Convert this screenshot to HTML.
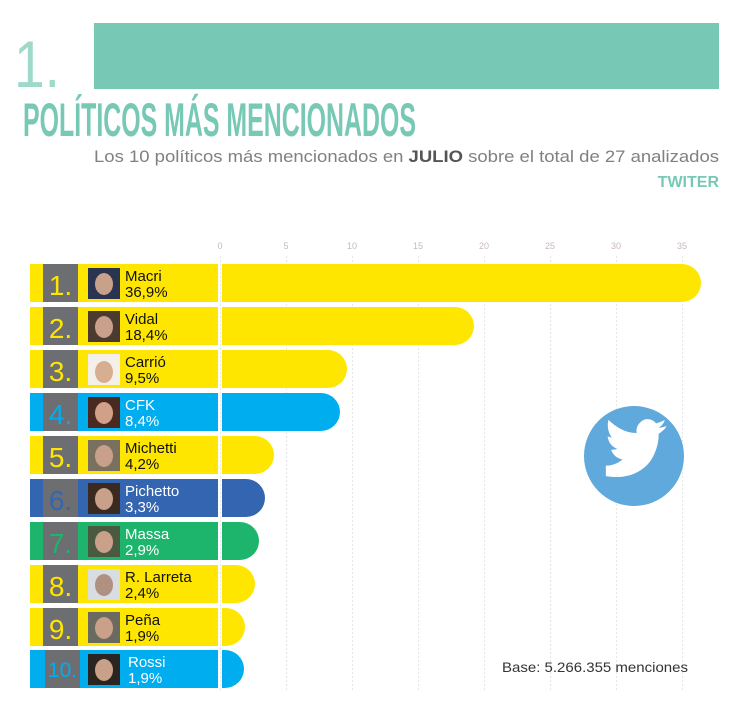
<!DOCTYPE html>
<html><head><meta charset="utf-8"><style>
html,body{margin:0;padding:0;background:#fff;}
svg{display:block;}
</style></head><body>
<svg width="754" height="706" viewBox="0 0 754 706" xmlns="http://www.w3.org/2000/svg" font-family="Liberation Sans, sans-serif">
<rect x="94" y="23" width="625" height="66" fill="#77c9b5"/>
<text x="14" y="87" font-size="66" fill="#9fd9ca" textLength="46" lengthAdjust="spacingAndGlyphs">1.</text>
<text x="23" y="136" font-size="47" font-weight="bold" fill="#77c9b5" font-family="Liberation Sans Narrow, Liberation Sans, sans-serif" textLength="393" lengthAdjust="spacingAndGlyphs">POLÍTICOS MÁS MENCIONADOS</text>
<text x="94" y="162" font-size="17" fill="#808080" font-family="Liberation Sans Narrow, Liberation Sans, sans-serif" textLength="625" lengthAdjust="spacingAndGlyphs">Los 10 políticos más mencionados en <tspan font-weight="bold" fill="#555">JULIO</tspan> sobre el total de 27 analizados</text>
<text x="719" y="187" font-size="16" font-weight="bold" fill="#77c9b5" text-anchor="end" font-family="Liberation Sans Narrow, Liberation Sans, sans-serif">TWITER</text>
<g font-size="9" fill="#c8b8b8" text-anchor="middle">
<text x="220" y="249">0</text><text x="286" y="249">5</text><text x="352" y="249">10</text><text x="418" y="249">15</text><text x="484" y="249">20</text><text x="550" y="249">25</text><text x="616" y="249">30</text><text x="682" y="249">35</text>
</g>
<g stroke="#e6e6e6" stroke-width="1" stroke-dasharray="2,2">
<line x1="286.5" y1="256" x2="286.5" y2="690"/><line x1="352.5" y1="256" x2="352.5" y2="690"/><line x1="418.5" y1="256" x2="418.5" y2="690"/><line x1="484.5" y1="256" x2="484.5" y2="690"/><line x1="550.5" y1="256" x2="550.5" y2="690"/><line x1="616.5" y1="256" x2="616.5" y2="690"/><line x1="682.5" y1="256" x2="682.5" y2="690"/><line x1="220.5" y1="256" x2="220.5" y2="690"/>
</g>

<g>
<rect x="30" y="264" width="188" height="38" fill="#ffe600"/>
<path d="M222 264 H682 A19 19 0 0 1 682 302 H222 Z" fill="#ffe600"/>
<rect x="43" y="264" width="35" height="38" fill="#6d6e71"/>
<text x="60.5" y="295" font-size="28" fill="#ffe600" text-anchor="middle">1.</text>
<rect x="88" y="268" width="32" height="31" fill="#2a3350"/><ellipse cx="104" cy="284" rx="9" ry="11" fill="#c9a089"/>
<text x="125" y="281" font-size="15" fill="#111">Macri</text>
<text x="125" y="297" font-size="15" fill="#111">36,9%</text>
</g>
<g>
<rect x="30" y="307" width="188" height="38" fill="#ffe600"/>
<path d="M222 307 H455 A19 19 0 0 1 455 345 H222 Z" fill="#ffe600"/>
<rect x="43" y="307" width="35" height="38" fill="#6d6e71"/>
<text x="60.5" y="338" font-size="28" fill="#ffe600" text-anchor="middle">2.</text>
<rect x="88" y="311" width="32" height="31" fill="#4a3a30"/><ellipse cx="104" cy="327" rx="9" ry="11" fill="#c9a089"/>
<text x="125" y="324" font-size="15" fill="#111">Vidal</text>
<text x="125" y="340" font-size="15" fill="#111">18,4%</text>
</g>
<g>
<rect x="30" y="350" width="188" height="38" fill="#ffe600"/>
<path d="M222 350 H328 A19 19 0 0 1 328 388 H222 Z" fill="#ffe600"/>
<rect x="43" y="350" width="35" height="38" fill="#6d6e71"/>
<text x="60.5" y="381" font-size="28" fill="#ffe600" text-anchor="middle">3.</text>
<rect x="88" y="354" width="32" height="31" fill="#f4efe8"/><ellipse cx="104" cy="372" rx="9" ry="11" fill="#d8ae90"/>
<text x="125" y="367" font-size="15" fill="#111">Carrió</text>
<text x="125" y="383" font-size="15" fill="#111">9,5%</text>
</g>
<g>
<rect x="30" y="393" width="188" height="38" fill="#00aeef"/>
<path d="M222 393 H321 A19 19 0 0 1 321 431 H222 Z" fill="#00aeef"/>
<rect x="43" y="393" width="35" height="38" fill="#6d6e71"/>
<text x="60.5" y="424" font-size="28" fill="#00aeef" text-anchor="middle">4.</text>
<rect x="88" y="397" width="32" height="31" fill="#4a2a20"/><ellipse cx="104" cy="413" rx="9" ry="11" fill="#d0a088"/>
<text x="125" y="410" font-size="15" fill="#fff">CFK</text>
<text x="125" y="426" font-size="15" fill="#fff">8,4%</text>
</g>
<g>
<rect x="30" y="436" width="188" height="38" fill="#ffe600"/>
<path d="M222 436 H255 A19 19 0 0 1 255 474 H222 Z" fill="#ffe600"/>
<rect x="43" y="436" width="35" height="38" fill="#6d6e71"/>
<text x="60.5" y="467" font-size="28" fill="#ffe600" text-anchor="middle">5.</text>
<rect x="88" y="440" width="32" height="31" fill="#7a7060"/><ellipse cx="104" cy="456" rx="9" ry="11" fill="#c9a089"/>
<text x="125" y="453" font-size="15" fill="#111">Michetti</text>
<text x="125" y="469" font-size="15" fill="#111">4,2%</text>
</g>
<g>
<rect x="30" y="479" width="188" height="38" fill="#3465b0"/>
<path d="M222 479 H246 A19 19 0 0 1 246 517 H222 Z" fill="#3465b0"/>
<rect x="43" y="479" width="35" height="38" fill="#6d6e71"/>
<text x="60.5" y="510" font-size="28" fill="#3465b0" text-anchor="middle">6.</text>
<rect x="88" y="483" width="32" height="31" fill="#3a2a20"/><ellipse cx="104" cy="499" rx="9" ry="11" fill="#c9a089"/>
<text x="125" y="496" font-size="15" fill="#fff">Pichetto</text>
<text x="125" y="512" font-size="15" fill="#fff">3,3%</text>
</g>
<g>
<rect x="30" y="522" width="188" height="38" fill="#1db56c"/>
<path d="M222 522 H240 A19 19 0 0 1 240 560 H222 Z" fill="#1db56c"/>
<rect x="43" y="522" width="35" height="38" fill="#6d6e71"/>
<text x="60.5" y="553" font-size="28" fill="#1db56c" text-anchor="middle">7.</text>
<rect x="88" y="526" width="32" height="31" fill="#4a5a40"/><ellipse cx="104" cy="542" rx="9" ry="11" fill="#c9a089"/>
<text x="125" y="539" font-size="15" fill="#fff">Massa</text>
<text x="125" y="555" font-size="15" fill="#fff">2,9%</text>
</g>
<g>
<rect x="30" y="565" width="188" height="38" fill="#ffe600"/>
<path d="M222 565 H236 A19 19 0 0 1 236 603 H222 Z" fill="#ffe600"/>
<rect x="43" y="565" width="35" height="38" fill="#6d6e71"/>
<text x="60.5" y="596" font-size="28" fill="#ffe600" text-anchor="middle">8.</text>
<rect x="88" y="569" width="32" height="31" fill="#d8dde2"/><ellipse cx="104" cy="585" rx="9" ry="11" fill="#b09080"/>
<text x="125" y="582" font-size="15" fill="#111">R. Larreta</text>
<text x="125" y="598" font-size="15" fill="#111">2,4%</text>
</g>
<g>
<rect x="30" y="608" width="188" height="38" fill="#ffe600"/>
<path d="M222 608 H226 A19 19 0 0 1 226 646 H222 Z" fill="#ffe600"/>
<rect x="43" y="608" width="35" height="38" fill="#6d6e71"/>
<text x="60.5" y="639" font-size="28" fill="#ffe600" text-anchor="middle">9.</text>
<rect x="88" y="612" width="32" height="31" fill="#6a6a60"/><ellipse cx="104" cy="628" rx="9" ry="11" fill="#c9a089"/>
<text x="125" y="625" font-size="15" fill="#111">Peña</text>
<text x="125" y="641" font-size="15" fill="#111">1,9%</text>
</g>
<g>
<rect x="30" y="650" width="188" height="38" fill="#00aeef"/>
<path d="M222 650 H225 A19 19 0 0 1 225 688 H222 Z" fill="#00aeef"/>
<rect x="45" y="650" width="35" height="38" fill="#6d6e71"/>
<text x="62.5" y="677" font-size="21" fill="#00aeef" text-anchor="middle">10.</text>
<rect x="88" y="654" width="32" height="31" fill="#2a2520"/><ellipse cx="104" cy="670" rx="9" ry="11" fill="#c9a089"/>
<text x="128" y="667" font-size="15" fill="#fff">Rossi</text>
<text x="128" y="683" font-size="15" fill="#fff">1,9%</text>
</g>

<circle cx="634" cy="456" r="50" fill="#60a9dc"/>
<path fill="#fff" d="M602 480 C625 484 648 476 657 455 C662 444 662 436 662 432 C666 429 669 427 671 423 C668 424 665 425 662 425 C665 423 668 420 669 416 C666 418 662 419 659 420 C656 416 650 414 645 416 C639 419 636 425 637 431 C625 431 614 425 605 416 C603 423 605 432 609 436 C607 436 605 435 604 435 C605 442 609 447 615 449 C612 450 610 450 608 450 C610 456 615 460 621 461 C615 466 608 468 602 468 Z" transform="translate(634 448) scale(0.88) translate(-634 -448)"/>
<text x="502" y="672" font-size="14" fill="#333" textLength="186" lengthAdjust="spacingAndGlyphs">Base: 5.266.355 menciones</text>
</svg>
</body></html>
